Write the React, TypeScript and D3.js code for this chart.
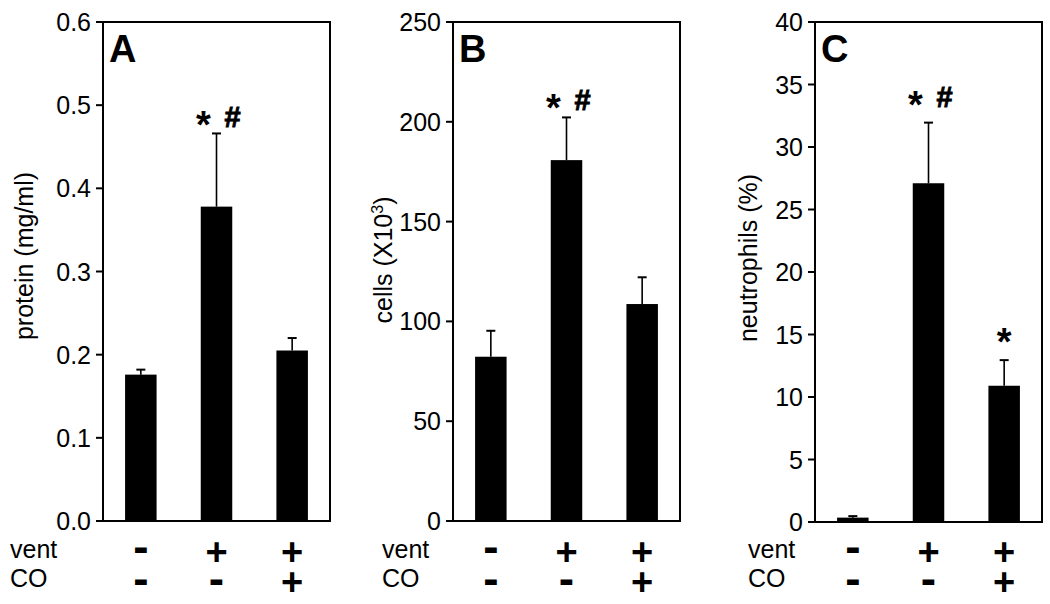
import React from 'react'
import * as d3 from 'd3'

// groups: vent / CO condition per bar
const groups = ['ctrl', 'vent', 'vent+CO']
const ventSigns = ['-', '+', '+']
const coSigns = ['-', '-', '+']

const proteinMean = [0.176, 0.378, 0.205]
const proteinErr = [0.006, 0.088, 0.015]
const proteinStars = ['', '*', '']
const proteinHash = ['', '#', '']
const proteinTicks = [0, 0.1, 0.2, 0.3, 0.4, 0.5, 0.6]

const cellsMean = [82.3, 180.8, 108.7]
const cellsErr = [13, 21.4, 13.4]
const cellsStars = ['', '*', '']
const cellsHash = ['', '#', '']
const cellsTicks = [0, 50, 100, 150, 200, 250]

const neutroMean = [0.35, 27.1, 10.9]
const neutroErr = [0.12, 4.85, 2.05]
const neutroStars = ['', '*', '*']
const neutroHash = ['', '#', '']
const neutroTicks = [0, 5, 10, 15, 20, 25, 30, 35, 40]

const FONT = "'Liberation Sans', Arial, sans-serif"
const W = 1050
const H = 604
const top = 22
const plotW = 227

interface PanelProps {
  x0: number
  letter: string
  label: React.ReactNode
  labelDx: number
  labelY: number
  rowDx: number
  mean: number[]
  err: number[]
  stars: string[]
  hash: string[]
  ticks: number[]
  fmt: (n: number) => string
  markGap: number
  bottomY: number
}

const Panel: React.FC<PanelProps> = (p) => {
  const yMax = p.ticks[p.ticks.length - 1]
  const y = d3.scaleLinear().domain([0, yMax]).range([p.bottomY, top])
  const x = d3.scalePoint<string>().domain(groups).range([p.x0, p.x0 + plotW]).padding(0.5)
  const bw = 31.5
  const cap = 4.5

  return (
    <g>
      {/* bars */}
      {groups.map((g, i) => (
        <rect key={'b' + g} x={x(g)! - bw / 2} y={y(p.mean[i])} width={bw}
          height={y(0) - y(p.mean[i])} fill="#000" />
      ))}
      {/* error bars, upper only */}
      {groups.map((g, i) => {
        const cx = x(g)!
        const t = y(p.mean[i] + p.err[i])
        return (
          <g key={'e' + g} stroke="#000" strokeWidth={1.6}>
            <line x1={cx} x2={cx} y1={y(p.mean[i])} y2={t} />
            <line x1={cx - cap} x2={cx + cap} y1={t} y2={t} strokeWidth={2} />
          </g>
        )
      })}
      {/* significance marks */}
      {groups.map((g, i) => {
        const cx = x(g)!
        const t = y(p.mean[i] + p.err[i]) - p.markGap
        const both = p.stars[i] && p.hash[i]
        return (
          <g key={'m' + g} fontFamily={FONT} fontWeight="bold">
            {p.stars[i] && (
              <text x={both ? cx - 13 : cx} y={t + 11} fontSize={38} textAnchor="middle">*</text>
            )}
            {p.hash[i] && (
              <text x={cx + 16} y={t} fontSize={29} textAnchor="middle"
                stroke="#000" strokeWidth={0.9}>#</text>
            )}
          </g>
        )
      })}
      {/* frame */}
      <rect x={p.x0} y={top} width={plotW} height={p.bottomY - top} fill="none" stroke="#000" strokeWidth={2} />
      {/* y ticks */}
      {p.ticks.map((t) => (
        <g key={'t' + t}>
          <line x1={p.x0 - 7} x2={p.x0} y1={y(t)} y2={y(t)} stroke="#000" strokeWidth={2} />
          <text x={p.x0 - 12} y={y(t) + 9} fontSize={25} fontFamily={FONT} textAnchor="end">{p.fmt(t)}</text>
        </g>
      ))}
      {/* panel letter */}
      <text x={p.x0 + 6} y={62} fontSize={38} fontWeight="bold" fontFamily={FONT}>{p.letter}</text>
      {/* y label */}
      <text transform={`translate(${p.x0 - p.labelDx},${p.labelY}) rotate(-90)`}
        fontSize={25} fontFamily={FONT} textAnchor="middle">{p.label}</text>
      {/* condition rows */}
      <text x={p.x0 - p.rowDx} y={558} fontSize={25} fontFamily={FONT}>vent</text>
      <text x={p.x0 - p.rowDx} y={587} fontSize={25} fontFamily={FONT}>CO</text>
      {groups.map((g, i) => (
        <g key={'s' + g} fontFamily={FONT} fontWeight="bold" textAnchor="middle">
          {ventSigns[i] === '+'
            ? <text x={x(g)} y={565} fontSize={38}>+</text>
            : <text x={x(g)} y={562} fontSize={46}>-</text>}
          {coSigns[i] === '+'
            ? <text x={x(g)} y={595} fontSize={38}>+</text>
            : <text x={x(g)} y={594} fontSize={46}>-</text>}
        </g>
      ))}
    </g>
  )
}

const App: React.FC = () => {
  return (
    <svg width={W} height={H} style={{ position: 'absolute', left: 0, top: 0, background: '#fff' }}>
      <rect width={W} height={H} fill="#fff" />
      <Panel x0={103} letter="A" label="protein (mg/ml)" labelDx={70} labelY={256} rowDx={93}
        mean={proteinMean} err={proteinErr} stars={proteinStars} hash={proteinHash}
        ticks={proteinTicks} fmt={d3.format('.1f')} markGap={6} bottomY={521} />
      <Panel x0={453} letter="B"
        label={<>cells (X10<tspan dy={-9} fontSize={16}>3</tspan><tspan dy={9}>)</tspan></>}
        labelDx={61} labelY={260} rowDx={71}
        mean={cellsMean} err={cellsErr} stars={cellsStars} hash={cellsHash}
        ticks={cellsTicks} fmt={d3.format('d')} markGap={7} bottomY={521} />
      <Panel x0={815} letter="C" label="neutrophils (%)" labelDx={58} labelY={258} rowDx={67}
        mean={neutroMean} err={neutroErr} stars={neutroStars} hash={neutroHash}
        ticks={neutroTicks} fmt={d3.format('d')} markGap={16} bottomY={522} />
    </svg>
  )
}

export default App
